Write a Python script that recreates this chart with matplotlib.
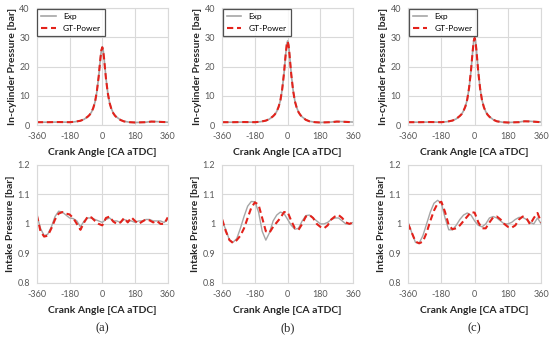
import matplotlib
matplotlib.use("Agg")
import matplotlib.pyplot as plt

plt.rcParams["font.family"] = ["Lato", "DejaVu Sans"]

# in-cylinder pressure, crank angle grid
cyl_ca = [-360, -300, -240, -180, -150, -120, -100, -80, -70, -60, -50, -40, -30, -20, -15, -10, -5, 0,
          5, 10, 15, 20, 30, 40, 50, 60, 70, 80, 100, 120, 150, 180, 240, 270, 300, 360]

cyl_exp_a = [1.0, 1.0, 1.05, 1.0, 1.15, 1.5, 2.0, 2.9, 3.5, 4.4, 5.8, 7.9, 11.4, 16.5, 19.8, 23.0, 25.7, 26.8,
             25.6, 22.8, 19.5, 16.2, 11.1, 7.7, 5.6, 4.2, 3.3, 2.7, 1.8, 1.3, 1.0, 0.9, 1.0, 1.25, 1.2, 1.0]
cyl_gt_a = [1.0, 1.0, 1.05, 1.0, 1.15, 1.5, 2.0, 2.9, 3.5, 4.4, 5.8, 7.9, 11.5, 16.6, 19.9, 23.0, 25.6, 26.6,
            25.4, 22.6, 19.3, 16.0, 11.0, 7.6, 5.5, 4.1, 3.2, 2.6, 1.75, 1.25, 1.0, 0.9, 1.0, 1.2, 1.15, 1.0]
cyl_exp_b = [1.0, 1.0, 1.05, 1.0, 1.16, 1.54, 2.08, 3.05, 3.7, 4.7, 6.2, 8.4, 12.2, 17.7, 21.3, 24.7, 27.6, 28.8,
             27.5, 24.5, 20.9, 17.4, 11.9, 8.2, 5.96, 4.45, 3.5, 2.8, 1.86, 1.32, 1.0, 0.9, 1.05, 1.25, 1.2, 1.05]
cyl_gt_b = [1.0, 1.0, 1.05, 1.0, 1.16, 1.54, 2.08, 3.05, 3.7, 4.7, 6.2, 8.4, 12.3, 17.8, 21.4, 24.7, 27.5, 28.6,
            27.3, 24.3, 20.7, 17.2, 11.8, 8.1, 5.9, 4.4, 3.45, 2.75, 1.8, 1.3, 1.0, 0.9, 1.0, 1.2, 1.15, 1.0]
cyl_exp_c = [1.0, 1.0, 1.05, 1.0, 1.17, 1.56, 2.12, 3.14, 3.8, 4.9, 6.4, 8.8, 12.7, 18.4, 22.1, 25.7, 28.8, 30.0,
             28.7, 25.5, 21.8, 18.1, 12.4, 8.5, 6.2, 4.6, 3.6, 2.9, 1.9, 1.35, 1.0, 0.9, 1.05, 1.35, 1.3, 1.05]
cyl_gt_c = [1.0, 1.0, 1.05, 1.0, 1.17, 1.56, 2.12, 3.14, 3.8, 4.9, 6.4, 8.8, 12.8, 18.5, 22.2, 25.7, 28.7, 29.8,
            28.5, 25.3, 21.6, 17.9, 12.3, 8.4, 6.1, 4.5, 3.55, 2.85, 1.85, 1.3, 1.0, 0.9, 1.0, 1.3, 1.25, 1.0]

# intake pressure, every 20 deg
int_ca = list(range(-360, 361, 20))

int_exp_a = [1.03, 0.985, 0.96, 0.965, 0.99, 1.025, 1.043, 1.04, 1.03, 1.02, 1.018, 1.01, 0.99, 1.01, 1.02,
             1.02, 1.015, 1.01, 1.005, 1.015, 1.02, 1.01, 1.01, 1.005, 1.015, 1.01, 1.01, 1.005, 1.01, 1.01,
             1.015, 1.015, 1.01, 1.01, 1.01, 1.005, 1.015]
int_gt_a = [1.03, 0.975, 0.957, 0.96, 0.985, 1.015, 1.035, 1.04, 1.035, 1.032, 1.02, 1.0, 0.98, 1.005, 1.025,
            1.022, 1.01, 1.0, 0.995, 1.02, 1.025, 1.008, 1.0, 1.005, 1.02, 1.005, 1.022, 1.01, 1.0, 1.008,
            1.015, 1.012, 1.005, 1.01, 1.0, 1.0, 1.022]
int_exp_b = [1.01, 0.98, 0.945, 0.938, 0.95, 0.985, 1.025, 1.06, 1.076, 1.075, 1.04, 0.975, 0.945, 0.97, 1.01,
             1.03, 1.04, 1.035, 1.015, 0.995, 0.982, 0.985, 1.01, 1.028, 1.03, 1.02, 1.01, 1.0, 1.0, 1.005,
             1.015, 1.02, 1.02, 1.01, 1.0, 1.0, 1.005]
int_gt_b = [1.015, 0.975, 0.945, 0.935, 0.945, 0.96, 0.985, 1.02, 1.055, 1.073, 1.065, 1.02, 0.975, 0.97, 0.99,
            1.005, 1.02, 1.04, 1.04, 1.01, 0.985, 0.98, 1.0, 1.025, 1.03, 1.02, 1.0, 0.99, 0.985, 0.995,
            1.015, 1.025, 1.03, 1.02, 1.005, 1.0, 1.005]
int_exp_c = [1.005, 0.97, 0.937, 0.935, 0.96, 1.0, 1.04, 1.07, 1.08, 1.07, 1.02, 0.98, 0.98, 0.995, 1.015,
             1.03, 1.037, 1.03, 1.01, 0.995, 0.99, 1.0, 1.02, 1.025, 1.02, 1.01, 1.0, 1.0, 1.005, 1.015,
             1.022, 1.022, 1.015, 1.005, 1.0, 1.02, 1.0]
int_gt_c = [1.0, 0.97, 0.94, 0.934, 0.94, 0.97, 1.01, 1.045, 1.07, 1.075, 1.04, 0.995, 0.982, 0.985, 0.995,
            1.01, 1.025, 1.04, 1.038, 1.005, 0.985, 0.985, 1.005, 1.022, 1.025, 1.015, 1.0, 0.99, 0.987, 0.995,
            1.015, 1.025, 1.02, 0.998, 1.02, 1.037, 1.005]

x_ticks = [-360, -180, 0, 180, 360]
captions = ["(a)", "(b)", "(c)"]

GRID = "#d9d9d9"
EXP_COLOR = "#a6a6a6"
GT_COLOR = "#e3221b"


def style_axes(ax, ylim, yticks, ytick_labels, ylabel):
    ax.set_xlim(-360, 360)
    ax.set_ylim(*ylim)
    ax.set_xticks(x_ticks)
    ax.set_xticklabels([str(t) for t in x_ticks])
    ax.set_yticks(yticks)
    ax.set_yticklabels(ytick_labels)
    ax.grid(True, color=GRID, linewidth=0.8)
    ax.set_axisbelow(True)
    for sp in ax.spines.values():
        sp.set_color(GRID)
        sp.set_linewidth(0.8)
    ax.tick_params(length=0, labelsize=6.5, colors="#595959", pad=5)
    ax.set_xlabel("Crank Angle [CA aTDC]", fontsize=7.5, fontweight="bold", color="#262626", labelpad=5)
    ax.set_ylabel(ylabel, fontsize=7.5, fontweight="bold", color="#262626", labelpad=2)


fig = plt.figure(figsize=(5.5, 3.4), dpi=100)

lefts = [0.067, 0.404, 0.742]
widths = [0.238, 0.238, 0.242]
top_sets = [(cyl_exp_a, cyl_gt_a), (cyl_exp_b, cyl_gt_b), (cyl_exp_c, cyl_gt_c)]
bot_sets = [(int_exp_a, int_gt_a), (int_exp_b, int_gt_b), (int_exp_c, int_gt_c)]

for i in range(3):
    ax = fig.add_axes([lefts[i], 0.632, widths[i], 0.344])
    exp, gt = top_sets[i]
    ax.plot(cyl_ca, exp, color=EXP_COLOR, linewidth=1.2, label="Exp")
    ax.plot(cyl_ca, gt, color=GT_COLOR, linewidth=1.5, linestyle=(0, (3, 1.8)), label="GT-Power")
    style_axes(ax, (0, 40), [0, 10, 20, 30, 40], ["0", "10", "20", "30", "40"], "In-cylinder Pressure [bar]")
    leg = ax.legend(loc="upper left", fontsize=6, frameon=True, fancybox=False, borderaxespad=0.05,
                    handlelength=1.7, handletextpad=0.9, borderpad=0.5, labelspacing=0.6)
    leg.get_frame().set_edgecolor("#262626")
    leg.get_frame().set_linewidth(0.9)

    ax2 = fig.add_axes([lefts[i], 0.168, widths[i], 0.347])
    exp, gt = bot_sets[i]
    ax2.plot(int_ca, exp, color=EXP_COLOR, linewidth=1.0)
    ax2.plot(int_ca, gt, color=GT_COLOR, linewidth=1.5, linestyle=(0, (3, 1.8)))
    style_axes(ax2, (0.8, 1.2), [0.8, 0.9, 1.0, 1.1, 1.2], ["0.8", "0.9", "1", "1.1", "1.2"], "Intake Pressure [bar]")

    fig.text(lefts[i] + widths[i] / 2, 0.035, captions[i], ha="center", va="center",
             fontsize=9, family=["Liberation Serif", "DejaVu Serif"], color="#262626")

fig.savefig("out.png", dpi=100)
